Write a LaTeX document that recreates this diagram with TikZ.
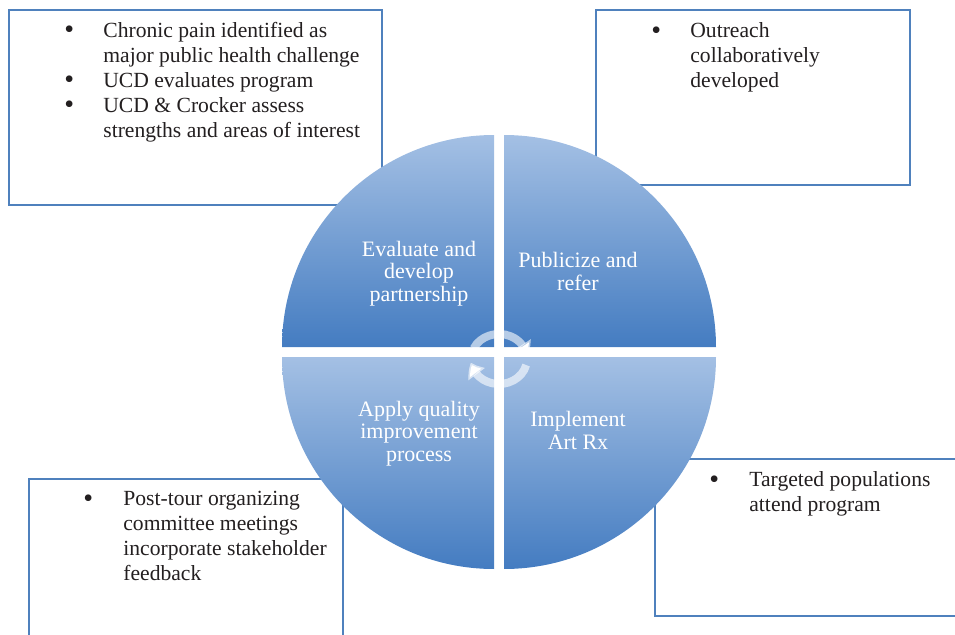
\documentclass[tikz,border=0pt]{standalone}
\usepackage{fontspec}
\setmainfont{Liberation Serif}
\usetikzlibrary{arrows.meta,bending}
\definecolor{boxblue}{RGB}{79,129,189}
\definecolor{quadlight}{RGB}{164,192,228}
\definecolor{quaddark}{RGB}{68,124,193}
\definecolor{textgray}{RGB}{35,31,32}
\newcommand{\listdot}{\raisebox{-0.8pt}{\fontsize{14}{12}\selectfont\textbullet}}
\begin{document}
\begin{tikzpicture}[x=0.5pt,y=0.5pt,
  boxline/.style={draw=boxblue,line width=0.75pt,fill=white},
  quadrant/.style={top color=quadlight,bottom color=quaddark},
  listtext/.style={anchor=base west,inner sep=0pt,text=textgray,font=\fontsize{10.8}{12.5}\selectfont},
  quadtext/.style={anchor=base,inner sep=0pt,text=white,font=\fontsize{11}{11.4}\selectfont},
  cyclearrow/.style={line width=4pt,draw=white,draw opacity=0.6,-{Triangle[width=10pt,length=6.5pt,bend]}}]
\useasboundingbox (0,0) rectangle (955,634);
\clip (0,0) rectangle (955,634);
% boxes
\draw[boxline] (9,429) rectangle (382,624);
\draw[boxline] (596,449) rectangle (910,624);
\draw[boxline] (29,-20) rectangle (343,155);
\draw[boxline] (655,18) rectangle (975,175);
\node[listtext] (painlist) at (64,596.7) {\begin{tabular}[t]{@{}p{19.5pt}@{}l@{}}
\listdot & Chronic pain identified as\\
 & major public health challenge\\
\listdot & UCD evaluates program\\
\listdot & UCD \& Crocker assess\\
 & strengths and areas of interest
\end{tabular}};
\node[listtext] (outreachlist) at (651,596.3) {\begin{tabular}[t]{@{}p{19.5pt}@{}l@{}}
\listdot & Outreach\\
 & collaboratively\\
 & developed
\end{tabular}};
\node[listtext] (feedbacklist) at (83,128.3) {\begin{tabular}[t]{@{}p{20pt}@{}l@{}}
\listdot & Post-tour organizing\\
 & committee meetings\\
 & incorporate stakeholder\\
 & feedback
\end{tabular}};
\node[listtext] (attendlist) at (709,147.3) {\begin{tabular}[t]{@{}p{20pt}@{}l@{}}
\listdot & Targeted populations\\
 & attend program
\end{tabular}};
% quadrants
\shade[quadrant] (494,287) -- ++(-212,0) arc[start angle=180,end angle=90,radius=212] -- cycle;
\shade[quadrant] (504,287) -- ++(0,212) arc[start angle=90,end angle=0,radius=212] -- cycle;
\shade[quadrant] (494,277) -- ++(-212,0) arc[start angle=180,end angle=270,radius=212] -- cycle;
\shade[quadrant] (504,277) -- ++(212,0) arc[start angle=0,end angle=-90,radius=212] -- cycle;
\node[quadtext] (evaluate) at (419,378) {\begin{tabular}[t]{@{}c@{}}Evaluate and\\ develop\\ partnership\end{tabular}};
\node[quadtext] (publicize) at (578,366.3) {\begin{tabular}[t]{@{}c@{}}Publicize and\\ refer\end{tabular}};
\node[quadtext] (apply) at (419,218) {\begin{tabular}[t]{@{}c@{}}Apply quality\\ improvement\\ process\end{tabular}};
\node[quadtext] (implement) at (578,207.3) {\begin{tabular}[t]{@{}c@{}}Implement\\ Art Rx\end{tabular}};
% cycle arrows
\draw[cyclearrow] (499,275) ++(155:28 and 25) arc[start angle=155,end angle=5,x radius=28,y radius=25];
\draw[cyclearrow] (499,275) ++(-14:28 and 25) arc[start angle=-14,end angle=-172,x radius=28,y radius=25];
\end{tikzpicture}
\end{document}
